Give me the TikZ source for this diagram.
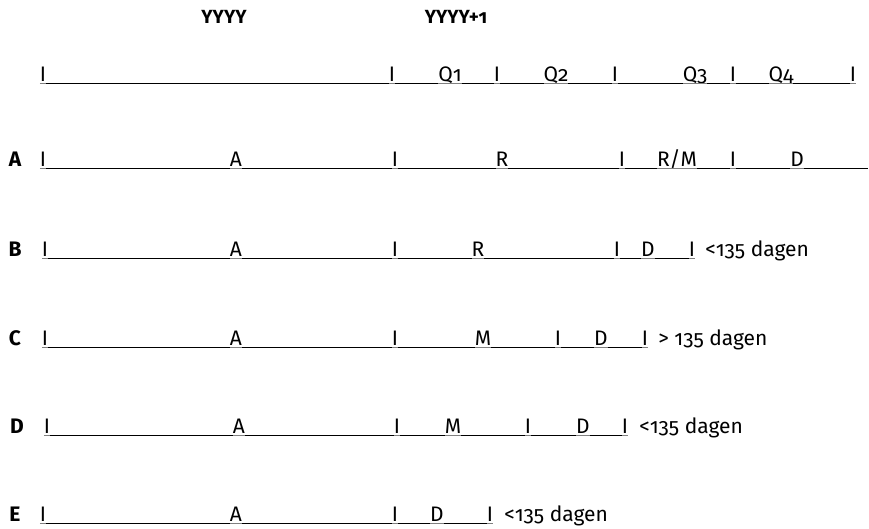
\documentclass[tikz,border=0pt]{standalone}
\usepackage{fontspec}
\setmainfont{Fira Sans}[RawFeature={+onum}]
\usetikzlibrary{positioning,calc}
\newcommand{\tlfont}{\fontsize{21}{23}\selectfont}

\begin{document}
\begin{tikzpicture}[x=1pt, y=-1pt,
    tk/.style={anchor=south, inner sep=0pt, outer sep=0pt, text depth=1.5pt, font=\tlfont,
      append after command={(\tikzlastnode.south west) edge[ul] (\tikzlastnode.south east)}},
    ul/.style={line width=0.8pt, black!50},
    seg/.style={line width=0.8pt},
    rowlbl/.style={anchor=base, font=\tlfont\bfseries},
    yr/.style={anchor=base, font=\fontsize{19}{21}\selectfont\bfseries},
    note/.style={inner sep=0pt, font=\tlfont}
]
\useasboundingbox (0,0) rectangle (869,528);

% jaren
\node[yr] (yy0) at (224,23) {YYYY};
\node[yr] (yy1) at (456,23) {YYYY+1};

% kwartalen
\foreach \x/\t [count=\i] in {43/I,392/I,450/Q1,497/I,556/Q2,615/I,695/Q3,733/I,781/Q4,853/I}
  \node[tk] (q\i) at (\x,83) {\t};
\foreach \i [evaluate=\i as \j using int(\i+1)] in {1,...,9}
  \draw[seg] (q\i.south east) -- (q\j.south west);

% rij A
\node[rowlbl] (la) at (15,166.5) {A};
\foreach \x/\t [count=\i] in {43/I,236/A,395/I,502/R,622/I,677/{R/M},733/I,797/D}
  \node[tk] (a\i) at (\x,168) {\t};
\foreach \i [evaluate=\i as \j using int(\i+1)] in {1,...,7}
  \draw[seg] (a\i.south east) -- (a\j.south west);
\coordinate (aend) at (868,168);
\draw[seg] (a8.south east) -- (aend);

% rij B
\node[rowlbl] (lb) at (15,256.5) {B};
\foreach \x/\t [count=\i] in {45/I,236/A,395/I,478/R,617/I,648/D,692/I}
  \node[tk] (b\i) at (\x,258) {\t};
\foreach \i [evaluate=\i as \j using int(\i+1)] in {1,...,6}
  \draw[seg] (b\i.south east) -- (b\j.south west);
\node[note, base right=10pt of b7] (nb) {<135 dagen};

% rij C
\node[rowlbl] (lc) at (15,345.5) {C};
\foreach \x/\t [count=\i] in {45/I,236/A,395/I,483/M,558/I,601/D,645/I}
  \node[tk] (c\i) at (\x,347) {\t};
\foreach \i [evaluate=\i as \j using int(\i+1)] in {1,...,6}
  \draw[seg] (c\i.south east) -- (c\j.south west);
\node[note, base right=10pt of c7] (nc) {> 135 dagen};

% rij D
\node[rowlbl] (ld) at (17,433.5) {D};
\foreach \x/\t [count=\i] in {47/I,239/A,397/I,453/M,528/I,583/D,625/I}
  \node[tk] (d\i) at (\x,435) {\t};
\foreach \i [evaluate=\i as \j using int(\i+1)] in {1,...,6}
  \draw[seg] (d\i.south east) -- (d\j.south west);
\node[note, base right=11pt of d7] (nd) {<135 dagen};

% rij E
\node[rowlbl] (le) at (15,521.5) {E};
\foreach \x/\t [count=\i] in {43/I,236/A,395/I,437/D,490/I}
  \node[tk] (e\i) at (\x,523) {\t};
\foreach \i [evaluate=\i as \j using int(\i+1)] in {1,...,4}
  \draw[seg] (e\i.south east) -- (e\j.south west);
\node[note, base right=11pt of e5] (ne) {<135 dagen};
\end{tikzpicture}
\end{document}
